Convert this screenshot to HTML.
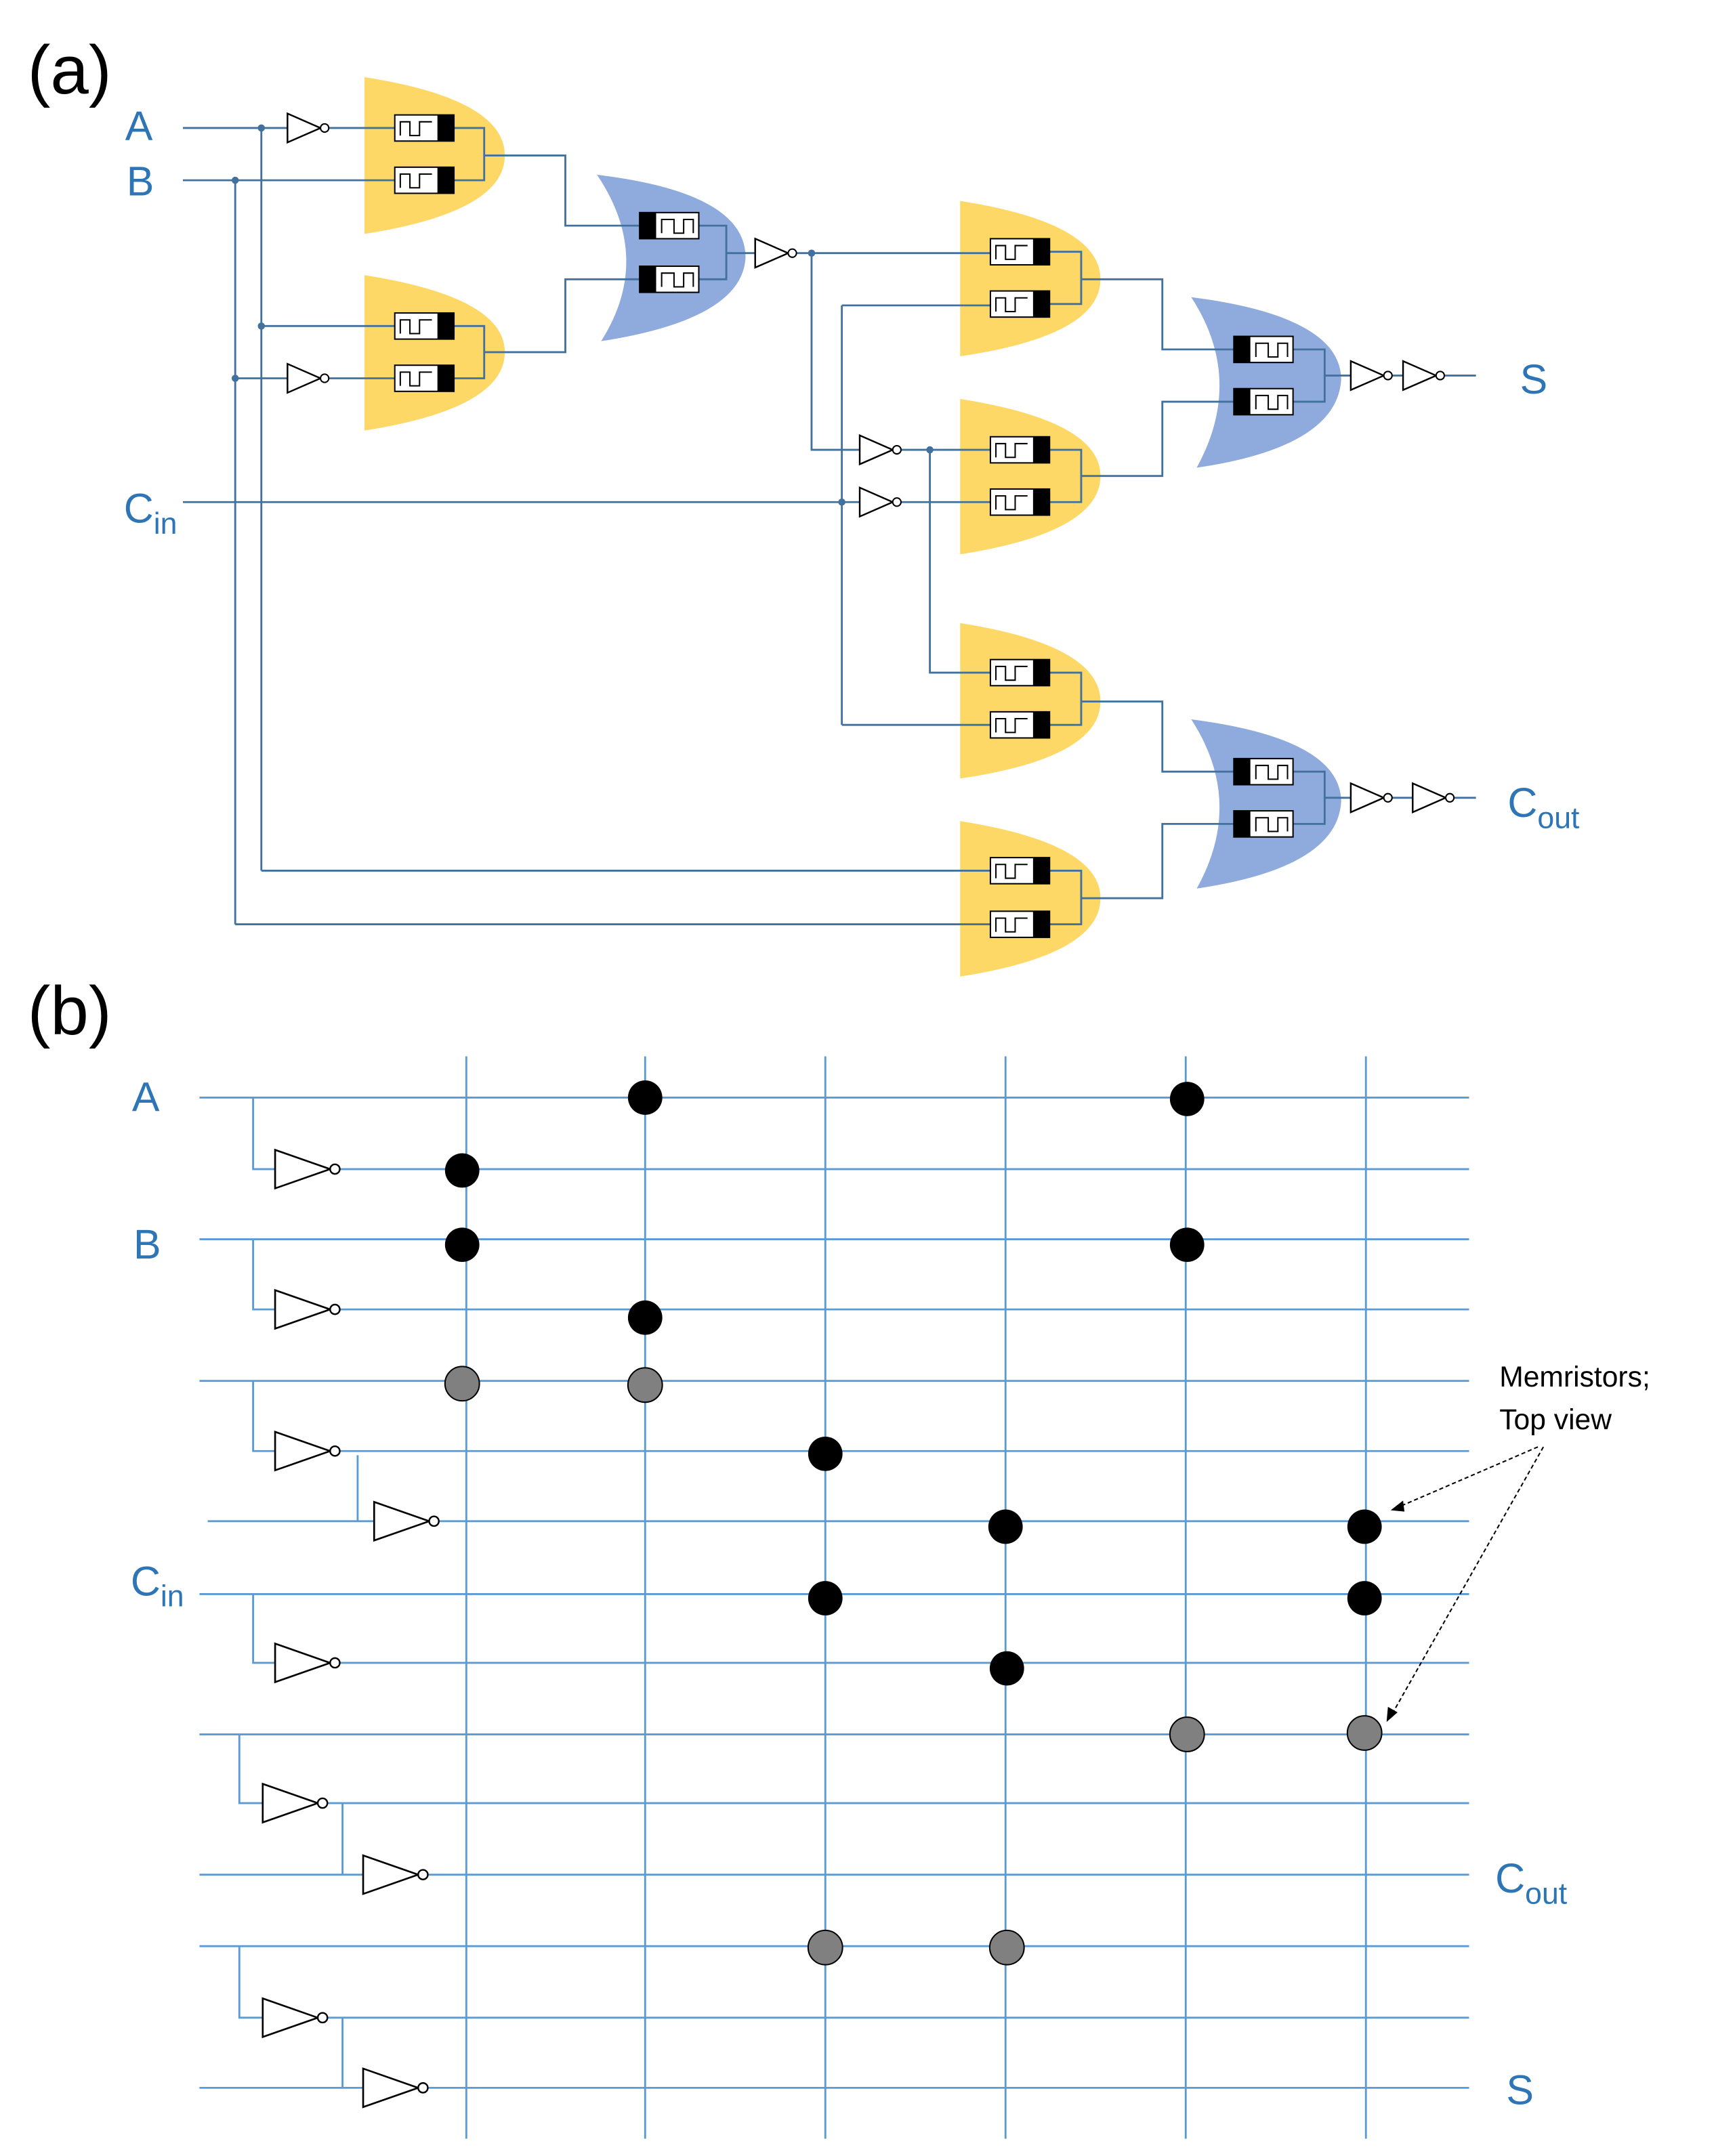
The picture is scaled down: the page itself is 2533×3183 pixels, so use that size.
<!DOCTYPE html>
<html><head><meta charset="utf-8"><style>
html,body{margin:0;padding:0;background:#fff}
svg{display:block}
</style></head><body>
<svg width="2533" height="3183" viewBox="0 0 1247.5 1567.5" xmlns="http://www.w3.org/2000/svg" font-family="Liberation Sans, sans-serif">
<defs>
<g id="mr">
<rect x="0" y="0" width="43" height="19" fill="#fff" stroke="#000" stroke-width="1"/>
<rect x="31" y="0" width="12" height="19" fill="#000"/>
<path d="M4,15 V5 H11 V15 H18 V5 H27" fill="none" stroke="#000" stroke-width="1"/>
</g>
<g id="ml">
<rect x="0" y="0" width="43" height="19" fill="#fff" stroke="#000" stroke-width="1"/>
<rect x="0" y="0" width="12" height="19" fill="#000"/>
<path d="M16,15 V5 H25 V15 H32 V5 H39 V15" fill="none" stroke="#000" stroke-width="1"/>
</g>
<g id="inv">
<path d="M0,-10.5 L0,10.5 L24,0 Z" fill="#fff" stroke="#000" stroke-width="1.2"/>
<circle cx="27" cy="0" r="3" fill="#fff" stroke="#000" stroke-width="1"/>
</g>
<g id="invb">
<path d="M0,-14 L0,14 L40,0 Z" fill="#fff" stroke="#000" stroke-width="1.3"/>
<circle cx="43.5" cy="0" r="3.5" fill="#fff" stroke="#000" stroke-width="1.2"/>
</g>
</defs>

<!-- PART A -->
<text x="20" y="68" font-size="50">(a)</text>
<g fill="#2e75b6" font-size="30">
<text x="91" y="102">A</text>
<text x="92" y="142">B</text>
<text x="90" y="380">C<tspan font-size="22" dy="8">in</tspan></text>
<text x="1105" y="286">S</text>
<text x="1096" y="594">C<tspan font-size="22" dy="8">out</tspan></text>
</g>

<g fill="#fdd867">
<path d="M265,56 Q367,72 367,113 Q367,154 265,170 Z"/>
<path d="M265,200 Q367,216 367,256 Q367,297 265,313 Z"/>
<path d="M698,146 Q800,162 800,203 Q800,244 698,259 Z"/>
<path d="M698,290 Q800,306 800,346 Q800,387 698,403 Z"/>
<path d="M698,453 Q800,469 800,510 Q800,551 698,566 Z"/>
<path d="M698,597 Q800,613 800,653 Q800,694 698,710 Z"/>
</g>
<g fill="#8faadc">
<path d="M434,127 Q542,140 542,187 Q540,232 437,248 Q475,188 434,127 Z"/>
<path d="M866,216 Q975,230 975,276 Q972,325 870,340 Q905,276 866,216 Z"/>
<path d="M866,523 Q975,537 975,583 Q972,631 870,646 Q905,583 866,523 Z"/>
</g>

<g fill="none" stroke="#41719c" stroke-width="1.4">
<path d="M133,93 H209 M238,93 H287 M133,131 H287 M190,93 V633 M171,131 V672"/>
<path d="M190,237 H287 M171,275 H209 M238,275 H287"/>
<path d="M330,93 H352 V131 H330 M352,113 H411 V164 H465"/>
<path d="M330,237 H352 V275 H330 M352,256 H411 V203 H465"/>
<path d="M508,164 H528 V203 H508 M528,184 H549 M578,184 H720"/>
<path d="M590,184 V327 H625 M654,327 H720 M676,327 V489 H720"/>
<path d="M133,365 H625 M654,365 H720 M612,222 V527 M612,222 H720 M612,527 H720"/>
<path d="M763,183 H786 V221 H763 M786,203 H845 V254 H897"/>
<path d="M763,327 H786 V365 H763 M786,346 H845 V292 H897"/>
<path d="M763,489 H786 V527 H763 M786,510 H845 V561 H897"/>
<path d="M190,633 H720 M171,672 H720 M763,633 H786 V672 H763 M786,653 H845 V599 H897"/>
<path d="M940,254 H963 V292 H940 M963,273 H982 M1011,273 H1020 M1049,273 H1073"/>
<path d="M940,561 H963 V599 H940 M963,580 H982 M1011,580 H1027 M1056,580 H1073"/>
</g>
<g fill="#41719c">
<circle cx="190" cy="93" r="2.6"/><circle cx="171" cy="131" r="2.6"/>
<circle cx="190" cy="237" r="2.6"/><circle cx="171" cy="275" r="2.6"/>
<circle cx="590" cy="184" r="2.6"/><circle cx="676" cy="327" r="2.6"/>
<circle cx="612" cy="365" r="2.6"/>
</g>

<use href="#mr" x="287" y="83.5"/><use href="#mr" x="287" y="121.5"/>
<use href="#mr" x="287" y="227.5"/><use href="#mr" x="287" y="265.5"/>
<use href="#ml" x="465" y="154.5"/><use href="#ml" x="465" y="193.5"/>
<use href="#mr" x="720" y="173.5"/><use href="#mr" x="720" y="211.5"/>
<use href="#mr" x="720" y="317.5"/><use href="#mr" x="720" y="355.5"/>
<use href="#mr" x="720" y="479.5"/><use href="#mr" x="720" y="517.5"/>
<use href="#mr" x="720" y="623.5"/><use href="#mr" x="720" y="662.5"/>
<use href="#ml" x="897" y="244.5"/><use href="#ml" x="897" y="282.5"/>
<use href="#ml" x="897" y="551.5"/><use href="#ml" x="897" y="589.5"/>

<use href="#inv" x="209" y="93"/><use href="#inv" x="209" y="275"/>
<use href="#inv" x="549" y="184"/>
<use href="#inv" x="625" y="327"/><use href="#inv" x="625" y="365"/>
<use href="#inv" x="982" y="273"/><use href="#inv" x="1020" y="273"/>
<use href="#inv" x="982" y="580"/><use href="#inv" x="1027" y="580"/>

<!-- PART B -->
<text x="20" y="752" font-size="50">(b)</text>
<g fill="#2e75b6" font-size="30">
<text x="96" y="808">A</text>
<text x="97" y="915">B</text>
<text x="95" y="1160">C<tspan font-size="22" dy="8">in</tspan></text>
<text x="1087" y="1376">C<tspan font-size="22" dy="8">out</tspan></text>
<text x="1095" y="1530">S</text>
</g>
<g fill="#000" font-size="21">
<text x="1090" y="1008">Memristors;</text>
<text x="1090" y="1039">Top view</text>
</g>

<g fill="none" stroke="#5b9bd5" stroke-width="1.4">
<path d="M339,768 V1555 M469,768 V1555 M600,768 V1555 M731,768 V1555 M862,768 V1555 M993,768 V1555"/>
<path d="M145,798 H1068 M184,798 V850 H200 M246,850 H1068"/>
<path d="M145,901 H1068 M184,901 V952 H200 M246,952 H1068"/>
<path d="M145,1004 H1068 M184,1004 V1055 H200 M246,1055 H1068 M260,1058 V1106 M151,1106 H272 M319,1106 H1068"/>
<path d="M145,1159 H1068 M184,1159 V1209 H200 M246,1209 H1068"/>
<path d="M145,1261 H1068 M174,1261 V1311 H191 M237,1311 H1068 M249,1311 V1363 M145,1363 H264 M310,1363 H1068"/>
<path d="M145,1415 H1068 M174,1415 V1467 H191 M237,1467 H1068 M249,1467 V1518 M145,1518 H264 M310,1518 H1068"/>
</g>
<use href="#invb" x="200" y="850"/><use href="#invb" x="200" y="952"/>
<use href="#invb" x="200" y="1055"/><use href="#invb" x="272" y="1106"/>
<use href="#invb" x="200" y="1209"/>
<use href="#invb" x="191" y="1311"/><use href="#invb" x="264" y="1363"/>
<use href="#invb" x="191" y="1467"/><use href="#invb" x="264" y="1518"/>

<g fill="#000">
<circle cx="469" cy="798" r="12.5"/><circle cx="863" cy="799" r="12.5"/>
<circle cx="336" cy="851" r="12.5"/><circle cx="336" cy="905" r="12.5"/>
<circle cx="863" cy="905" r="12.5"/><circle cx="469" cy="958" r="12.5"/>
<circle cx="600" cy="1057" r="12.5"/><circle cx="731" cy="1110" r="12.5"/>
<circle cx="992" cy="1110" r="12.5"/><circle cx="600" cy="1162" r="12.5"/>
<circle cx="992" cy="1162" r="12.5"/><circle cx="732" cy="1213" r="12.5"/>
</g>
<g fill="#808080" stroke="#000" stroke-width="1">
<circle cx="336" cy="1006" r="12.5"/><circle cx="469" cy="1007" r="12.5"/>
<circle cx="863" cy="1261" r="12.5"/><circle cx="992" cy="1260" r="12.5"/>
<circle cx="600" cy="1416" r="12.5"/><circle cx="732" cy="1416" r="12.5"/>
</g>
<g fill="none" stroke="#000" stroke-width="1" stroke-dasharray="3,2">
<path d="M1118,1052 L1016,1096"/>
<path d="M1122,1052 L1011,1248"/>
</g>
<path d="M1011,1098 L1020,1091 L1021,1099 Z" fill="#000"/>
<path d="M1008,1252 L1009,1241 L1016,1245 Z" fill="#000"/>
</svg>
</body></html>
